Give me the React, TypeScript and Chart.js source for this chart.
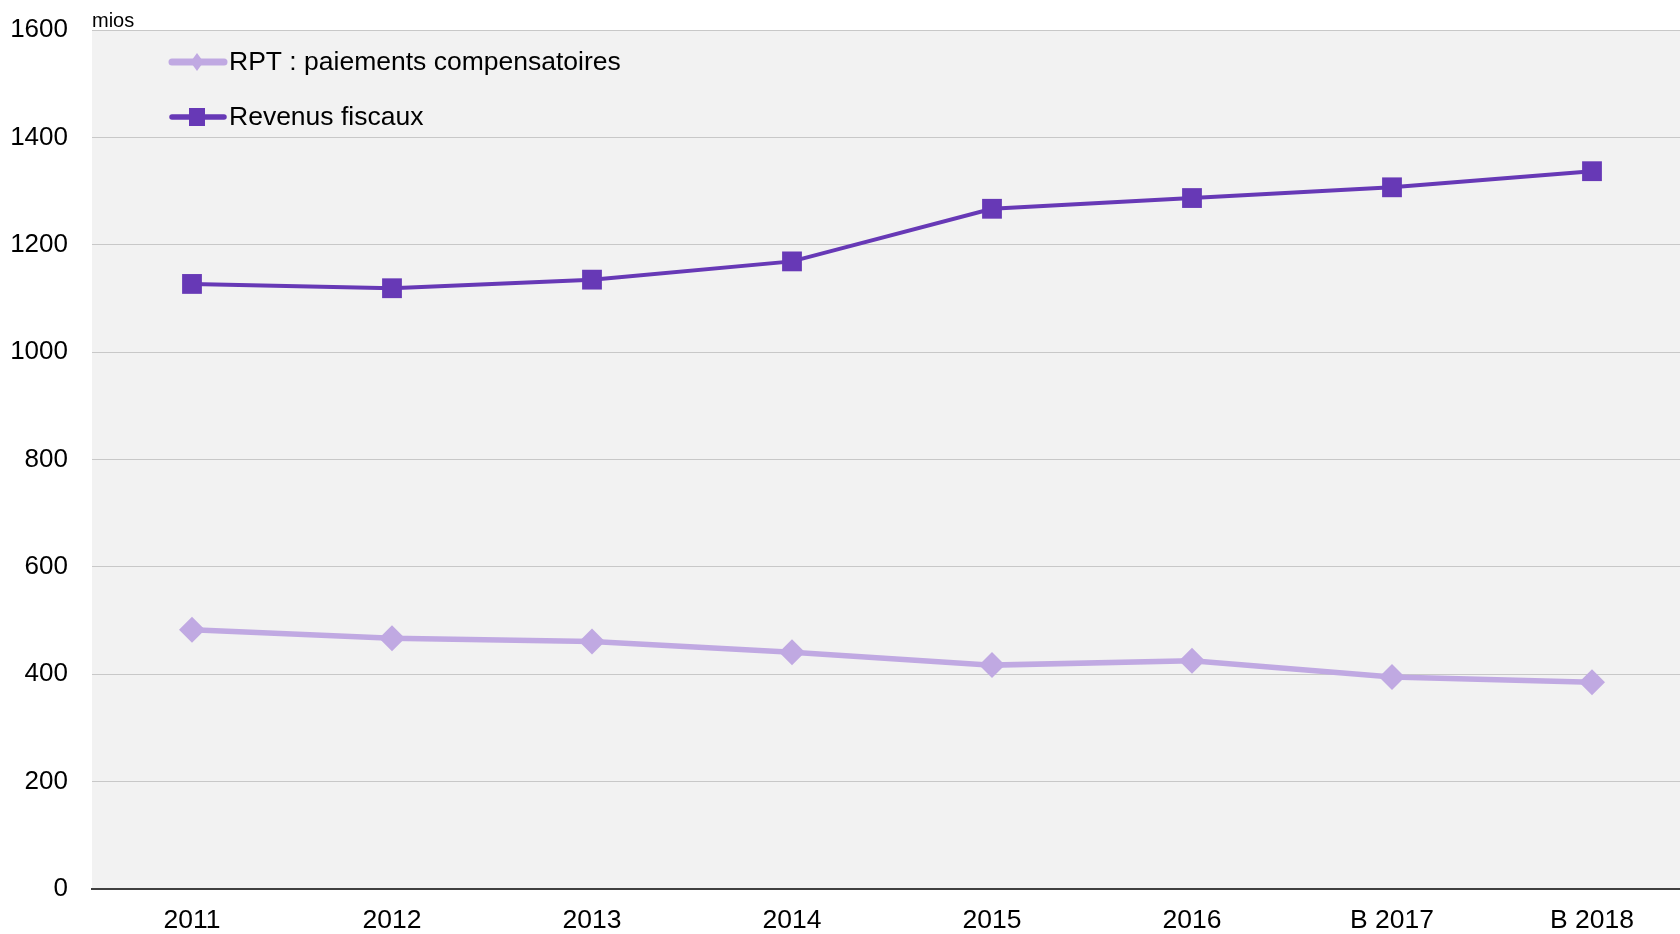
import React, { useEffect, useRef } from "react";
import { Chart, registerables } from "chart.js";

Chart.register(...registerables);

const categories = ["2011", "2012", "2013", "2014", "2015", "2016", "B 2017", "B 2018"];
const rptValues = [483, 467, 461, 441, 417, 425, 395, 385];
const revenusValues = [1127, 1119, 1135, 1169, 1267, 1287, 1307, 1337];
const seriesNames = ["RPT : paiements compensatoires", "Revenus fiscaux"];
const yMin = 0;
const yMax = 1600;
const yStep = 200;
const unitLabel = "mios";

const LIGHT = "#C0A9E2";
const DARK = "#6739B6";
const FONT = "'Liberation Sans', Arial, sans-serif";
// The reference's category band runs slightly past the right edge of the picture.
const X_AXIS_LENGTH = 1600;

function drawMarker(ctx: CanvasRenderingContext2D, style: string, x: number, y: number, w: number, h: number, color: string) {
  ctx.save();
  ctx.fillStyle = color;
  ctx.beginPath();
  if (style === "rect") {
    ctx.rect(x - w / 2, y - h / 2, w, h);
  } else {
    ctx.moveTo(x, y - h / 2);
    ctx.lineTo(x + w / 2, y);
    ctx.lineTo(x, y + h / 2);
    ctx.lineTo(x - w / 2, y);
    ctx.closePath();
  }
  ctx.fill();
  ctx.restore();
}

const widenPlugin = {
  id: "widenX",
  afterLayout(chart: any) {
    const x = chart.scales.x;
    x.right = x.left + X_AXIS_LENGTH;
    x.width = X_AXIS_LENGTH;
    x.configure();
    x._labelItems = null;
    x._gridLineItems = null;
  },
};

const bgPlugin = {
  id: "plotBg",
  beforeDraw(chart: any) {
    const { ctx, chartArea } = chart;
    ctx.save();
    ctx.fillStyle = "#F2F2F2";
    ctx.fillRect(chartArea.left, chartArea.top, chart.width - chartArea.left, chartArea.bottom - chartArea.top);
    ctx.restore();
  },
};

const legendPlugin = {
  id: "innerLegend",
  afterDraw(chart: any) {
    const { ctx, chartArea } = chart;
    const items = chart.data.datasets.map((ds: any) => ({
      label: ds.label,
      color: ds.borderColor,
      width: ds.borderWidth,
      style: ds.pointStyle,
    }));
    const rows = [chartArea.top + 32, chartArea.top + 87];
    items.forEach((it: any, i: number) => {
      const y = rows[i];
      const x0 = chartArea.left + 80;
      const x1 = chartArea.left + 132;
      ctx.save();
      ctx.strokeStyle = it.color;
      ctx.lineWidth = it.width + 1.5;
      ctx.lineCap = "round";
      ctx.beginPath();
      ctx.moveTo(x0, y);
      ctx.lineTo(x1, y);
      ctx.stroke();
      ctx.restore();
      const isRect = it.style === "rect";
      drawMarker(ctx, isRect ? "rect" : "diamond", (x0 + x1) / 2 - 1, y, isRect ? 16 : 13, 18, it.color);
      ctx.save();
      ctx.fillStyle = "#000";
      ctx.font = `26.5px ${FONT}`;
      ctx.textBaseline = "middle";
      ctx.textAlign = "left";
      ctx.fillText(it.label, chartArea.left + 137, y + 1);
      ctx.restore();
    });
    ctx.save();
    ctx.fillStyle = "#000";
    ctx.font = `20px ${FONT}`;
    ctx.textBaseline = "alphabetic";
    ctx.textAlign = "left";
    ctx.fillText(unitLabel, chartArea.left, chartArea.top - 3.5);
    ctx.restore();
  },
};

export default function App() {
  const ref = useRef<HTMLCanvasElement | null>(null);
  useEffect(() => {
    document.body.style.margin = "0";
    document.body.style.overflow = "hidden";
    if (!ref.current) return;
    const chart = new Chart(ref.current, {
      type: "line",
      data: {
        labels: categories,
        datasets: [
          {
            label: seriesNames[0],
            data: rptValues,
            borderColor: LIGHT,
            backgroundColor: LIGHT,
            borderWidth: 5.5,
            pointStyle: "rectRot",
            pointRadius: 13,
            pointHoverRadius: 13,
            pointBorderWidth: 0,
            tension: 0,
            clip: false,
          },
          {
            label: seriesNames[1],
            data: revenusValues,
            borderColor: DARK,
            backgroundColor: DARK,
            borderWidth: 4,
            pointStyle: "rect",
            pointRadius: 14,
            pointHoverRadius: 14,
            pointBorderWidth: 0,
            tension: 0,
            clip: false,
          },
        ],
      },
      options: {
        responsive: false,
        animation: false,
        layout: { autoPadding: false, padding: { top: 30, right: 0, left: 0, bottom: 0 } },
        plugins: {
          legend: { display: false },
          tooltip: { enabled: false },
        },
        scales: {
          x: {
            offset: true,
            grid: { display: true, drawOnChartArea: false, drawTicks: true, tickLength: 16, tickColor: "rgba(0,0,0,0)" },
            border: { display: true, color: "#404040", width: 2 },
            ticks: { color: "#000", font: { size: 26.5, family: FONT }, padding: 0, maxRotation: 0, autoSkip: false },
            afterFit: (s: any) => {
              s.height = 45;
              s.paddingLeft = 0;
              s.paddingRight = 0;
            },
          },
          y: {
            min: yMin,
            max: yMax,
            grid: { color: "#C8C8C8", lineWidth: 1, drawTicks: false },
            border: { display: false },
            ticks: {
              stepSize: yStep,
              color: "#000",
              font: { size: 26, family: FONT },
              padding: 24,
              callback: (v: any) => String(v),
            },
            afterFit: (s: any) => {
              s.width = 92;
              s.paddingTop = 0;
              s.paddingBottom = 0;
            },
          },
        },
      },
      plugins: [widenPlugin, bgPlugin, legendPlugin],
    });
    return () => chart.destroy();
  }, []);
  return (
    <div style={{ width: 1680, height: 934, overflow: "hidden" }}>
      <canvas ref={ref} width={1680} height={934} style={{ display: "block" }} />
    </div>
  );
}
